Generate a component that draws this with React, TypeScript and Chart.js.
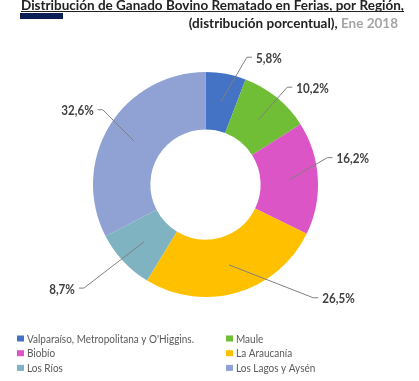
import React, { useEffect, useRef } from 'react';
import { Chart, registerables } from 'chart.js';
Chart.register(...registerables);

const regions = [
  "Valparaíso, Metropolitana y O'Higgins.",
  'Maule',
  'Biobío',
  'La Araucanía',
  'Los Ríos',
  'Los Lagos y Aysén',
];
const shares = [5.8, 10.2, 16.2, 26.5, 8.7, 32.6];
const colors = ['#4472C4', '#70BE35', '#DB55C7', '#FFC000', '#7FB3C1', '#8FA2D3'];

const titleLine1 = 'Distribución de Ganado Bovino Rematado en Ferias, por Región,';
const titleLine2 = '(distribución porcentual), ';
const titleDate = 'Ene 2018';

// data-label leader placement: radial factor of outer radius and angle nudge (deg)
const labelRadius = [1.19, 1.13, 1.11, 1.39, 1.42, 1.13];
const labelNudge = [7.6, 0.8, -9.2, -27.2, 2.6, 4.7];

const FONT = 'Lato, "Open Sans", sans-serif';

function scaledText(ctx: CanvasRenderingContext2D, txt: string, x: number, y: number, sx: number) {
  ctx.save();
  ctx.translate(x, y);
  ctx.scale(sx, 1);
  ctx.fillText(txt, 0, 0);
  ctx.restore();
}

const annotPlugin = {
  id: 'annot',
  afterDraw(chart: any) {
    const ctx: CanvasRenderingContext2D = chart.ctx;
    const meta = chart.getDatasetMeta(0);
    const values = chart.data.datasets[0].data as number[];
    ctx.save();
    // data labels
    meta.data.forEach((arc: any, i: number) => {
      const p = arc.getProps(['x', 'y', 'startAngle', 'endAngle', 'innerRadius', 'outerRadius'], true);
      const mid = (p.startAngle + p.endAngle) / 2;
      const rm = (p.innerRadius + p.outerRadius) / 2;
      const sx = p.x + Math.cos(mid) * rm;
      const sy = p.y + Math.sin(mid) * rm;
      const ea = mid + (labelNudge[i] * Math.PI) / 180;
      const er = p.outerRadius * labelRadius[i];
      const ex = p.x + Math.cos(ea) * er;
      const ey = p.y + Math.sin(ea) * er;
      const right = ex >= p.x;
      const hx = ex + (right ? 5 : -5);
      ctx.strokeStyle = '#808080';
      ctx.lineWidth = 1;
      ctx.beginPath();
      ctx.moveTo(sx, sy);
      ctx.lineTo(ex, ey);
      ctx.lineTo(hx, ey);
      ctx.stroke();
      ctx.fillStyle = '#404040';
      ctx.font = `bold 12.5px ${FONT}`;
      ctx.textAlign = right ? 'left' : 'right';
      ctx.textBaseline = 'middle';
      const txt = values[i].toFixed(1).replace('.', ',') + '%';
      scaledText(ctx, txt, hx + (right ? 4 : -4), ey + 1.5, 0.93);
    });

    // title
    ctx.textBaseline = 'alphabetic';
    ctx.textAlign = 'left';
    ctx.font = `bold 14px ${FONT}`;
    const w14 = ctx.measureText(titleLine1).width;
    const tsx = 383 / w14;
    ctx.fillStyle = '#222222';
    scaledText(ctx, titleLine1, 21, 9.5, tsx);
    ctx.fillRect(21, 11, 383, 1);
    ctx.fillStyle = '#0B1F55';
    ctx.fillRect(20, 13, 43, 6);
    ctx.textAlign = 'right';
    ctx.fillStyle = '#A5A5A5';
    scaledText(ctx, titleDate, 398, 27.5, tsx);
    const wd = ctx.measureText(titleDate).width * tsx;
    ctx.fillStyle = '#222222';
    scaledText(ctx, titleLine2, 398 - wd, 27.5, tsx);

    // legend
    ctx.font = `11.5px ${FONT}`;
    ctx.textAlign = 'left';
    ctx.textBaseline = 'middle';
    const labels = chart.data.labels as string[];
    const bg = chart.data.datasets[0].backgroundColor as string[];
    const lsx = 167 / ctx.measureText(labels[0]).width;
    labels.forEach((lab, i) => {
      const col = i % 2;
      const row = Math.floor(i / 2);
      const x = col === 0 ? 17 : 226;
      const y = 338.5 + row * 14.7;
      ctx.fillStyle = bg[i];
      ctx.fillRect(x, y - 3, 7, 6);
      ctx.fillStyle = '#595959';
      scaledText(ctx, lab, x + 10, y + 0.5, lsx);
    });
    ctx.restore();
  },
};

export default function App() {
  const ref = useRef<HTMLCanvasElement>(null);
  useEffect(() => {
    document.body.style.margin = '0';
    const chart = new Chart(ref.current!, {
      type: 'doughnut',
      data: {
        labels: regions,
        datasets: [
          {
            data: shares,
            backgroundColor: colors,
            borderWidth: 0,
          },
        ],
      },
      options: {
        responsive: false,
        animation: false,
        devicePixelRatio: 1,
        cutout: '49%',
        layout: { padding: { left: 93, right: 101, top: 72, bottom: 84 } },
        plugins: {
          legend: { display: false },
          tooltip: { enabled: false },
          title: { display: false },
        },
      },
      plugins: [annotPlugin],
    });
    return () => chart.destroy();
  }, []);
  return (
    <div style={{ width: 419, height: 381, background: '#fff' }}>
      <canvas ref={ref} width={419} height={381} style={{ display: 'block' }} />
    </div>
  );
}
